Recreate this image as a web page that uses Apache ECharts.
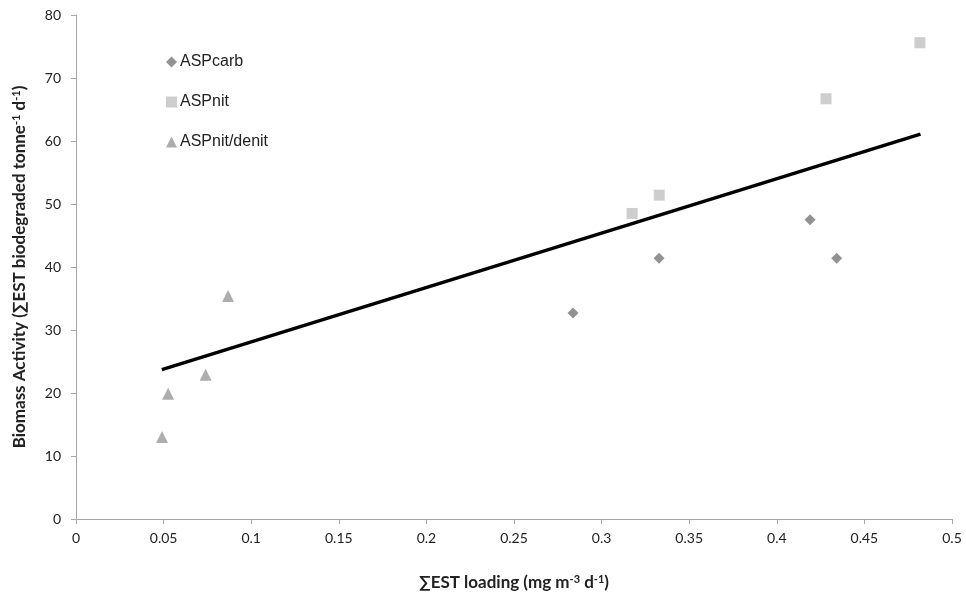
<!DOCTYPE html>
<html><head><meta charset="utf-8">
<script src="https://cdn.jsdelivr.net/npm/echarts@6/dist/echarts.min.js"></script>
<style>html,body{margin:0;padding:0;background:#fff}#c{width:966px;height:594px}</style>
</head><body><div id="c"></div>
<script>
const aspCarb = [[0.2837, 32.7], [0.3328, 41.4], [0.4190, 47.5], [0.4342, 41.4]];
const aspNit = [[0.3174, 48.5], [0.3329, 51.4], [0.4281, 66.7], [0.4817, 75.6]];
const aspNitDenit = [[0.0491, 13.0], [0.0526, 19.9], [0.0740, 22.9], [0.0868, 35.4]];
const trend = [[0.049, 23.7], [0.482, 61.1]];
const seriesNames = ['ASPcarb', 'ASPnit', 'ASPnit/denit'];

const chart = echarts.init(document.getElementById('c'));
const axisFont = 'Lato, "Open Sans", sans-serif';
chart.setOption({
  animation: false,
  grid: {left: 76, right: 14, top: 15, bottom: 75, outerBoundsMode: 'none', containLabel: false},
  legend: {
    data: seriesNames,
    orient: 'vertical', left: 161, top: 49, itemGap: 24,
    itemWidth: 11, itemHeight: 11,
    textStyle: {fontFamily: '"Liberation Sans", Arial, sans-serif', fontSize: 16, color: '#222', padding: [0,0,0,-2]}
  },
  xAxis: {
    type: 'value', min: 0, max: 0.5, interval: 0.05,
    axisLine: {lineStyle: {color: '#a6a6a6'}},
    axisTick: {show: true, length: 5, lineStyle: {color: '#a6a6a6'}},
    splitLine: {show: false},
    axisLabel: {fontFamily: axisFont, fontSize: 14, color: '#222', margin: 12},
    name: '{b|\u2211EST loading (mg m}{s|-3}{b| d}{s|-1}{b|)}',
    nameLocation: 'middle', nameGap: 55,
    nameTextStyle: {rich: {
      b: {fontFamily: axisFont, fontWeight: 'bold', fontSize: 17, color: '#222'},
      s: {fontFamily: axisFont, fontWeight: 'bold', fontSize: 11, color: '#222', verticalAlign: 'top', padding: [0,0,7,0]}
    }}
  },
  yAxis: {
    type: 'value', min: 0, max: 80, interval: 10,
    axisLine: {show: true, lineStyle: {color: '#a6a6a6'}},
    axisTick: {show: true, length: 5, lineStyle: {color: '#a6a6a6'}},
    splitLine: {show: false},
    axisLabel: {fontFamily: axisFont, fontSize: 14, color: '#222', margin: 15},
    name: '{b|Biomass Activity (\u2211EST biodegraded tonne}{s|-1}{b| d}{s|-1}{b|)}',
    nameLocation: 'middle', nameGap: 47,
    nameTextStyle: {rich: {
      b: {fontFamily: axisFont, fontWeight: 'bold', fontSize: 17, color: '#222'},
      s: {fontFamily: axisFont, fontWeight: 'bold', fontSize: 11, color: '#222', verticalAlign: 'top', padding: [0,0,7,0]}
    }}
  },
  series: [
    {name: seriesNames[0], type: 'scatter', data: aspCarb, symbol: 'diamond', symbolSize: 11, itemStyle: {color: '#777777'}},
    {name: seriesNames[1], type: 'scatter', data: aspNit, symbol: 'rect', symbolSize: 11, itemStyle: {color: '#c0c0c0'}},
    {name: seriesNames[2], type: 'scatter', data: aspNitDenit, symbol: 'triangle', symbolSize: 12, itemStyle: {color: '#989898'}},
    {name: 'trend', type: 'line', data: trend, showSymbol: false, symbol: 'none', lineStyle: {color: '#000', width: 3.5}, z: 1}
  ]
});
</script></body></html>
